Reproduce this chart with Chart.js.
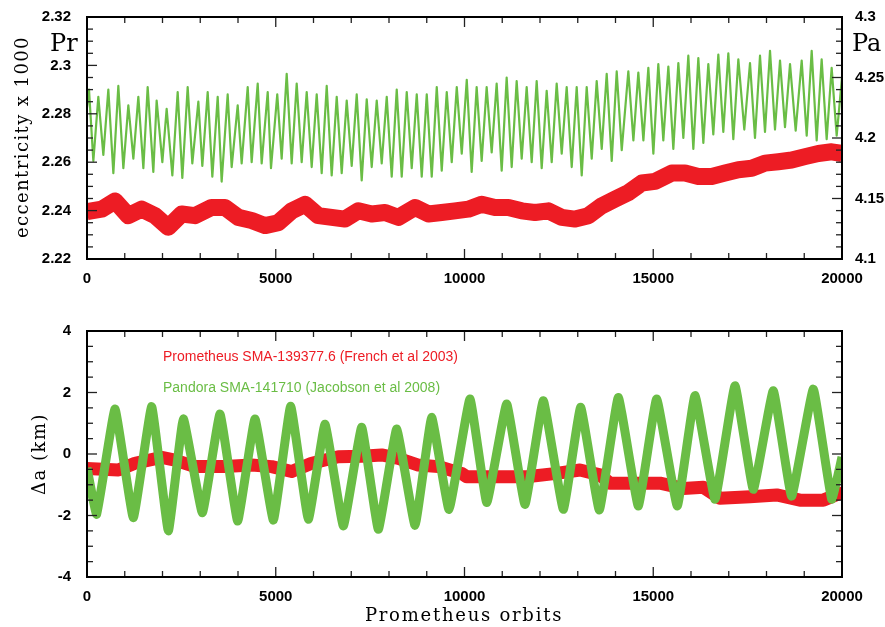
<!DOCTYPE html>
<html>
<head>
<meta charset="utf-8">
<script src="https://cdn.jsdelivr.net/npm/chart.js@4.4.1/dist/chart.umd.min.js"></script>
<style>
body{margin:0;background:#fff;}
#wrap{position:relative;width:885px;height:627px;}
canvas{position:absolute;left:0;}
#top{top:0;}
#bot{top:300px;}
</style>
</head>
<body>
<div id="wrap">
<canvas id="top" width="885" height="300"></canvas>
<canvas id="bot" width="885" height="327"></canvas>
</div>
<script>
// upper panel: eccentricity x 1000 (Prometheus left axis, Pandora right axis)
var rTopOrbit = [0,389,742,1095,1448,1801,2154,2508,2861,3302,3656,4009,4362,4715,5068,
  5422,5775,6128,6482,6835,7188,7542,7895,8248,8689,9042,9395,9748,10101,10455,10808,
  11161,11515,11868,12221,12575,12928,13281,13635,13988,14341,14695,15048,15489,15842,
  16195,16548,16901,17254,17608,17961,18314,18668,19021,19374,19727,20000];
var rTopVal = [2.2396,2.2406,2.2440,2.2379,2.2406,2.2379,2.2331,2.2386,2.2379,2.2413,2.2413,
  2.2372,2.2359,2.2338,2.2350,2.2399,2.2426,2.2379,2.2372,2.2365,2.2399,2.2386,2.2392,
  2.2372,2.2413,2.2386,2.2392,2.2399,2.2406,2.2426,2.2413,2.2413,2.2399,2.2392,2.2399,
  2.2372,2.2365,2.2379,2.2420,2.2447,2.2474,2.2514,2.2521,2.2555,2.2555,2.2541,2.2541,
  2.2555,2.2569,2.2575,2.2596,2.2602,2.2609,2.2623,2.2636,2.2643,2.2636];

var gTopOrbit = [0,53,168,300,433,565,698,830,963,1095,
  1228,1360,1493,1607,1757,1845,1996,2110,2261,2402,
  2525,2667,2790,2950,3055,3197,3320,3462,3567,3727,
  3832,3992,4097,4257,4362,4522,4627,4787,4874,5040,
  5157,5290,5422,5555,5687,5820,5952,6085,6217,6350,
  6482,6615,6747,6880,7012,7145,7277,7410,7542,7675,
  7807,7940,8072,8205,8337,8470,8602,8735,8867,9000,
  9132,9265,9397,9530,9662,9795,9927,10060,10190,10322,
  10455,10587,10720,10852,10985,11117,11250,11382,11515,11647,
  11780,11912,12045,12177,12310,12442,12575,12707,12840,12972,
  13105,13237,13370,13502,13635,13767,13900,14032,14165,14340,
  14474,14605,14739,14870,15003,15134,15267,15400,15532,15665,
  15797,15929,16062,16194,16327,16459,16591,16724,16856,16989,
  17121,17254,17412,17563,17695,17828,17960,18093,18225,18358,
  18490,18623,18773,18932,19065,19197,19329,19461,19594,19726,
  19859,20000];
var gTopVal = [4.225,4.240,4.181,4.234,4.186,4.240,4.171,4.243,4.175,4.227,
  4.183,4.234,4.175,4.242,4.172,4.231,4.180,4.224,4.169,4.238,
  4.167,4.242,4.179,4.230,4.177,4.238,4.168,4.234,4.164,4.236,
  4.176,4.227,4.179,4.242,4.180,4.245,4.179,4.238,4.175,4.236,
  4.183,4.253,4.179,4.245,4.180,4.238,4.176,4.236,4.171,4.243,
  4.169,4.234,4.171,4.231,4.177,4.236,4.165,4.232,4.176,4.231,
  4.179,4.234,4.168,4.240,4.168,4.238,4.175,4.236,4.168,4.236,
  4.168,4.242,4.173,4.238,4.180,4.242,4.187,4.248,4.172,4.242,
  4.181,4.242,4.188,4.245,4.173,4.250,4.176,4.247,4.183,4.242,
  4.180,4.247,4.175,4.239,4.180,4.245,4.187,4.242,4.176,4.242,
  4.169,4.242,4.183,4.247,4.191,4.253,4.181,4.255,4.190,4.255,
  4.198,4.254,4.198,4.258,4.187,4.261,4.198,4.259,4.191,4.262,
  4.200,4.268,4.191,4.266,4.196,4.261,4.203,4.269,4.205,4.270,
  4.199,4.265,4.207,4.262,4.200,4.268,4.205,4.272,4.207,4.264,
  4.209,4.261,4.206,4.264,4.202,4.272,4.198,4.265,4.199,4.258,
  4.202,4.250];

// lower panel: delta a (km)
var rBotOrbit = [0,830,1271,1978,2331,2861,3656,4363,4892,5422,5952,6658,7276,7806,8247,
  8777,9307,9925,10058,10763,11647,12442,13059,13589,13854,14649,15179,15797,16326,
  16768,17563,18270,18886,19504,19947,20000];
var rBotVal = [-0.47,-0.52,-0.30,-0.11,-0.20,-0.41,-0.41,-0.36,-0.41,-0.57,-0.30,-0.09,
  -0.07,-0.03,-0.14,-0.36,-0.41,-0.63,-0.74,-0.74,-0.74,-0.63,-0.52,-0.68,-0.95,-0.95,
  -0.95,-1.12,-1.08,-1.44,-1.39,-1.33,-1.50,-1.50,-1.28,-1.28];

var gBotOrbit = [0,256,742,1227,1713,2155,2553,3056,3523,3991,4450,4937,5395,5864,6305,
  6791,7276,7718,8203,8690,9130,9590,10145,10590,11117,11602,12088,12618,13077,13571,
  14075,14604,15090,15637,16106,16636,17165,17651,18180,18666,19240,19726,20000];
var gBotVal = [-0.45,-1.96,1.46,-2.07,1.54,-2.50,1.14,-1.91,1.30,-2.18,1.14,-2.15,1.55,
  -2.12,0.97,-2.34,0.87,-2.45,0.81,-2.32,1.19,-1.80,1.79,-1.58,1.63,-1.64,1.73,-1.80,
  1.52,-1.82,1.84,-1.69,1.79,-1.69,1.90,-1.47,2.22,-1.15,2.06,-1.37,2.11,-1.47,-0.10];

var xTicks = [0,5000,10000,15000,20000];
var red = '#ed1c24';
var green = '#6abd45';

function pairs(xs, ys){
  return xs.map(function(x,i){ return {x:x, y:ys[i]}; });
}
function fixW(w){ return function(s){ s.width = w; }; }
function fixH(h){ return function(s){ s.height = h; }; }
function plain(v){ return String(parseFloat(Number(v).toFixed(4))); }
var tickFont = {family:'Liberation Sans', size:15, weight:'bold'};

// inward ticks on all four sides plus frame
var frameTicks = {
  id:'frameTicks',
  afterDatasetsDraw: function(chart, args, o){
    var ctx = chart.ctx, a = chart.chartArea;
    ctx.save();
    ctx.strokeStyle = '#222';
    ctx.lineWidth = 1.3;
    function seg(x1,y1,x2,y2){ ctx.beginPath(); ctx.moveTo(x1,y1); ctx.lineTo(x2,y2); ctx.stroke(); }
    function walk(scale, step, every, cb){
      var n = Math.round((scale.max - scale.min)/step);
      for (var i=0;i<=n;i++) cb(scale.getPixelForValue(scale.min + i*step), i % every === 0);
    }
    walk(chart.scales.x, o.x[0], o.x[1], function(p, big){
      var l = big ? 10 : 6;
      seg(p, a.bottom, p, a.bottom - l);
      seg(p, a.top, p, a.top + l);
    });
    walk(chart.scales[o.left[2]], o.left[0], o.left[1], function(p, big){
      seg(a.left, p, a.left + (big ? 10 : 6), p);
    });
    walk(chart.scales[o.right[2]], o.right[0], o.right[1], function(p, big){
      seg(a.right, p, a.right - (big ? 10 : 6), p);
    });
    ctx.strokeStyle = '#000';
    ctx.lineWidth = 2;
    ctx.strokeRect(a.left, a.top, a.right - a.left, a.bottom - a.top);
    ctx.restore();
  }
};

var textLayer = {
  id:'textLayer',
  afterDraw: function(chart, args, o){
    var ctx = chart.ctx;
    o.items.forEach(function(t){
      ctx.save();
      ctx.font = t.font;
      ctx.fillStyle = t.color || '#000';
      ctx.letterSpacing = t.spacing || '0px';
      ctx.textAlign = t.align || 'left';
      ctx.textBaseline = t.base || 'alphabetic';
      ctx.translate(t.x, t.y);
      if (t.rot) ctx.rotate(t.rot);
      ctx.fillText(t.text, 0, 0);
      ctx.restore();
    });
  }
};

function xScale(h){
  return {type:'linear', min:0, max:20000, grid:{display:false}, border:{display:false},
    afterBuildTicks: function(s){ s.ticks = xTicks.map(function(v){ return {value:v}; }); },
    ticks:{font:tickFont, color:'#000', padding:3, maxRotation:0, autoSkip:false,
      callback:plain},
    afterFit: fixH(h)};
}
function yScale(pos, lo, hi, step, pad, show){
  return {position:pos, min:lo, max:hi, grid:{display:false}, border:{display:false},
    ticks:{display:show, stepSize:step, font:tickFont, color:'#000', padding:pad, callback:plain},
    afterFit:fixW(pos === 'left' ? 87 : 43)};
}

new Chart('top', {
  type:'line',
  data:{datasets:[
    {label:'Prometheus', data:pairs(rTopOrbit, rTopVal), yAxisID:'yL', borderColor:red,
      borderWidth:17, clip:0},
    {label:'Pandora', data:pairs(gTopOrbit, gTopVal), yAxisID:'yR', borderColor:green,
      borderWidth:2.2, clip:0}
  ]},
  options:{
    responsive:false, animation:false,
    layout:{padding:{top:13, left:0, right:0, bottom:0}},
    elements:{point:{radius:0}, line:{tension:0, borderJoinStyle:'round'}},
    plugins:{
      legend:{display:false}, tooltip:{enabled:false},
      frameTicks:{x:[1000,5], left:[0.005,4,'yL'], right:[0.01,5,'yR']},
      textLayer:{items:[
        {text:'Pr', x:50, y:51, font:'24px "DejaVu Serif"'},
        {text:'Pa', x:852, y:51, font:'24px "DejaVu Serif"'},
        {text:'eccentricity x 1000', x:23, y:137, font:'18px "DejaVu Serif"', spacing:'1.4px',
          align:'center', base:'middle', rot:-Math.PI/2}
      ]}
    },
    scales:{
      x:xScale(41),
      yL:yScale('left', 2.22, 2.32, 0.02, 8, true),
      yR:yScale('right', 4.1, 4.3, 0.05, 5, true)
    }
  },
  plugins:[frameTicks, textLayer]
});

new Chart('bot', {
  type:'line',
  data:{datasets:[
    {label:'Pandora', data:pairs(gBotOrbit, gBotVal), yAxisID:'yL', borderColor:green,
      borderWidth:9, clip:0, tension:0.1},
    {label:'Prometheus', data:pairs(rBotOrbit, rBotVal), yAxisID:'yL', borderColor:red,
      borderWidth:13, clip:0}
  ]},
  options:{
    responsive:false, animation:false,
    layout:{padding:{top:31, left:0, right:0, bottom:0}},
    elements:{point:{radius:0}, line:{tension:0, borderJoinStyle:'round'}},
    plugins:{
      legend:{display:false}, tooltip:{enabled:false},
      frameTicks:{x:[1000,5], left:[0.5,4,'yL'], right:[0.5,4,'yL']},
      textLayer:{items:[
        {text:'Prometheus SMA-139377.6 (French et al 2003)', x:163, y:61, color:red,
          font:'14px "Liberation Sans"'},
        {text:'Pandora SMA-141710 (Jacobson et al 2008)', x:163, y:92, color:green,
          font:'14px "Liberation Sans"'},
        {text:'\u0394a (km)', x:40, y:154, font:'18px "DejaVu Serif"', spacing:'1.5px',
          align:'center', base:'middle', rot:-Math.PI/2},
        {text:'Prometheus orbits', x:464, y:321, font:'18px "DejaVu Serif"', spacing:'1.75px',
          align:'center'}
      ]}
    },
    scales:{
      x:xScale(50),
      yL:yScale('left', -4, 4, 2, 8, true),
      yR:yScale('right', -4, 4, 2, 5, false)
    }
  },
  plugins:[frameTicks, textLayer]
});
</script>
</body>
</html>
